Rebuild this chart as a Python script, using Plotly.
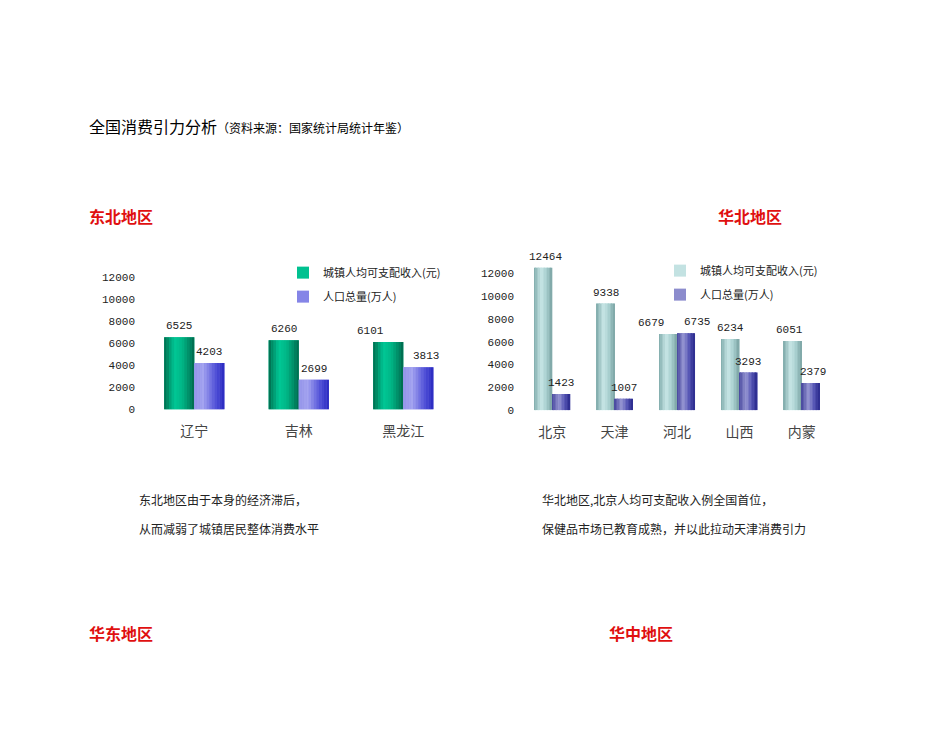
import plotly.graph_objects as go

# ---- data ----
ne_regions = ["辽宁", "吉林", "黑龙江"]
ne_income = [6525, 6260, 6101]
ne_population = [4203, 2699, 3813]

nc_regions = ["北京", "天津", "河北", "山西", "内蒙"]
nc_income = [12464, 9338, 6679, 6234, 6051]
nc_population = [1423, 1007, 6735, 3293, 2379]

series_names = ["城镇人均可支配收入(元)", "人口总量(万人)"]
y_ticks = [0, 2000, 4000, 6000, 8000, 10000, 12000]
y_tick_text = ["0", "2000", "4000", "6000", "8000", "10000", "12000"]

# ---- style ----
W, H = 950, 735
mono = "Liberation Mono"
cjk = "Noto Sans CJK SC"
BAR_W = 0.288          # width of one bar in category units
N_STRIPS = 12          # strips used to imitate the cylinder shading

grad_ne_income = [(0.0, "#006A4C"), (0.35, "#00C896"), (0.6, "#00B686"), (1.0, "#00684C")]
grad_ne_pop = [(0.0, "#9696EA"), (0.3, "#A4A4F0"), (0.7, "#5252D8"), (1.0, "#2828C0")]
grad_nc_income = [(0.0, "#7EAAAA"), (0.4, "#C8E6E6"), (0.7, "#A8CFCF"), (1.0, "#7CA4A4")]
grad_nc_pop = [(0.0, "#44449C"), (0.4, "#9696D2"), (0.7, "#5858B6"), (1.0, "#2A2A8C")]

# label nudges (pixels) for labels that were moved aside in the original
ne_income_shift = [0, 0, -18]
ne_pop_shift = [0, 0, 8]
nc_income_shift = [2, 0, -17, 0, -3]
nc_pop_shift = [0, 0, 11, 0, 2]


def hex2rgb(h):
    h = h.lstrip("#")
    return tuple(int(h[i:i + 2], 16) for i in (0, 2, 4))


def grad_color(stops, t):
    for (t0, c0), (t1, c1) in zip(stops, stops[1:]):
        if t0 <= t <= t1:
            f = 0 if t1 == t0 else (t - t0) / (t1 - t0)
            a, b = hex2rgb(c0), hex2rgb(c1)
            return "rgb(%d,%d,%d)" % tuple(round(a[i] + (b[i] - a[i]) * f) for i in range(3))
    return stops[-1][1]


fig = go.Figure()


def add_series(cats, vals, name, stops, offset, xa, ya, leg):
    mid = grad_color(stops, 0.45)
    fig.add_trace(go.Bar(x=cats, y=vals, name=name, width=BAR_W, offset=offset,
                         marker=dict(color=mid, line=dict(width=0)),
                         xaxis=xa, yaxis=ya, legend=leg, legendgroup=leg + name))
    sw = BAR_W / N_STRIPS
    for k in range(N_STRIPS):
        fig.add_trace(go.Bar(x=cats, y=vals, width=sw * 1.04, offset=offset + k * sw,
                             marker=dict(color=grad_color(stops, (k + 0.5) / N_STRIPS),
                                         line=dict(width=0)),
                             showlegend=False, hoverinfo="skip",
                             xaxis=xa, yaxis=ya, legend=leg, legendgroup=leg + name))


add_series(ne_regions, ne_income, series_names[0], grad_ne_income, -BAR_W, "x", "y", "legend")
add_series(ne_regions, ne_population, series_names[1], grad_ne_pop, 0.0, "x", "y", "legend")
add_series(nc_regions, nc_income, series_names[0], grad_nc_income, -BAR_W, "x2", "y2", "legend2")
add_series(nc_regions, nc_population, series_names[1], grad_nc_pop, 0.0, "x2", "y2", "legend2")

# vertical calibration of paper coordinates
def px_x(px):
    return px / W


def px_y(py):
    return 1 - ((py - 1) / 0.99) / H


xaxis_common = dict(showgrid=False, zeroline=False, showline=False, ticks="",
                    tickfont=dict(family=cjk, size=14, color="#444"),
                    ticklabelstandoff=12)
yaxis_common = dict(showgrid=False, zeroline=False, showline=False, ticks="",
                    range=[0, 13000], tickvals=y_ticks, ticktext=y_tick_text,
                    tickfont=dict(family=mono, size=11, color="#222"),
                    ticklabelstandoff=6)

legend_common = dict(font=dict(family=cjk, size=11, color="#222"),
                     bgcolor="rgba(0,0,0,0)", xanchor="left", yanchor="top",
                     tracegroupgap=5, itemwidth=30, traceorder="grouped")

fig.update_layout(
    width=W, height=H,
    margin=dict(l=0, r=0, t=0, b=0),
    paper_bgcolor="white", plot_bgcolor="white",
    barmode="overlay",
    xaxis=dict(domain=[px_x(142), px_x(455.5)], anchor="y", **xaxis_common),
    yaxis=dict(domain=[px_y(410.3), px_y(266.6)], anchor="x", **yaxis_common),
    xaxis2=dict(domain=[px_x(521), px_x(833)], anchor="y2", **xaxis_common),
    yaxis2=dict(domain=[px_y(411), px_y(262.6)], anchor="x2", **yaxis_common),
    legend=dict(x=px_x(283), y=px_y(259), **legend_common),
    legend2=dict(x=px_x(660), y=px_y(257), **legend_common),
    showlegend=True,
)

annotations = []


def add_labels(vals, offset, shifts, xr, yr):
    for i, v in enumerate(vals):
        annotations.append(dict(text=str(v), x=i + offset + BAR_W / 2, y=v, xref=xr, yref=yr,
                                xanchor="center", yanchor="bottom", xshift=shifts[i], yshift=3,
                                showarrow=False, font=dict(family=mono, size=11, color="#222")))


add_labels(ne_income, -BAR_W, ne_income_shift, "x", "y")
add_labels(ne_population, 0.0, ne_pop_shift, "x", "y")
add_labels(nc_income, -BAR_W, nc_income_shift, "x2", "y2")
add_labels(nc_population, 0.0, nc_pop_shift, "x2", "y2")

texts = [
    ("全国消费引力分析<span style='font-size:12px'>（资料来源：国家统计局统计年鉴）</span>",
     87, 127, 16, "#000", False),
    ("东北地区", 87, 217, 16, "#E01010", True),
    ("华北地区", 716, 217, 16, "#E01010", True),
    ("华东地区", 87, 634, 16, "#E01010", True),
    ("华中地区", 607, 634, 16, "#E01010", True),
    ("东北地区由于本身的经济滞后，", 137, 500, 12, "#222", False),
    ("从而减弱了城镇居民整体消费水平", 137, 529, 12, "#222", False),
    ("华北地区,北京人均可支配收入例全国首位，", 540, 500, 12, "#222", False),
    ("保健品市场已教育成熟，并以此拉动天津消费引力", 540, 529, 12, "#222", False),
]
for t, x, y, s, c, b in texts:
    annotations.append(dict(text=("<b>%s</b>" % t) if b else t, x=px_x(x), y=px_y(y),
                            xref="paper", yref="paper", xanchor="left", yanchor="middle",
                            font=dict(family=cjk, size=s, color=c), showarrow=False))

fig.update_layout(annotations=annotations)

fig.write_html("out.html")
